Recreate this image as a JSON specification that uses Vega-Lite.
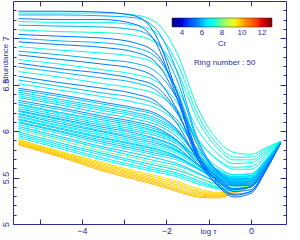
{
"$schema":"https://vega.github.io/schema/vega-lite/v6.json",
"width":273,"height":223,
"autosize":{"type":"none"},
"padding":{"left":13,"top":1,"right":14,"bottom":16},
"background":"white",
"config":{"view":{"stroke":null},"font":"Liberation Sans",
 "axis":{"domainColor":"#2b2b99","tickColor":"#2b2b99","labelColor":"#2b2b99","titleColor":"#2b2b99","grid":false,"labelFontSize":9,"titleFontSize":8,"titleFontWeight":"normal","labelFont":"Liberation Sans","titleFont":"Liberation Sans","domainWidth":1,"tickWidth":1}},
"datasets":{
"curves":[
{"r":"01","c":9.9,"x":-5.5,"y":5.85},{"r":"01","c":9.9,"x":-4.5,"y":5.72},{"r":"01","c":9.9,"x":-3.5,"y":5.57},{"r":"01","c":9.9,"x":-2.75,"y":5.48},{"r":"01","c":9.9,"x":-2.25,"y":5.42},{"r":"01","c":9.9,"x":-1.75,"y":5.35},{"r":"01","c":9.9,"x":-1.25,"y":5.29},{"r":"01","c":9.9,"x":-0.8,"y":5.28},{"r":"01","c":9.9,"x":-0.4,"y":5.33},{"r":"01","c":9.9,"x":0,"y":5.41},{"r":"01","c":9.9,"x":0.35,"y":5.61},{"r":"01","c":9.9,"x":0.7,"y":5.87},
{"r":"02","c":9.85,"x":-5.5,"y":5.86},{"r":"02","c":9.85,"x":-4.5,"y":5.73},{"r":"02","c":9.85,"x":-3.5,"y":5.585},{"r":"02","c":9.85,"x":-2.75,"y":5.495},{"r":"02","c":9.85,"x":-2.25,"y":5.435},{"r":"02","c":9.85,"x":-1.75,"y":5.365},{"r":"02","c":9.85,"x":-1.25,"y":5.30},{"r":"02","c":9.85,"x":-0.8,"y":5.29},{"r":"02","c":9.85,"x":-0.4,"y":5.34},{"r":"02","c":9.85,"x":0,"y":5.42},{"r":"02","c":9.85,"x":0.35,"y":5.61},{"r":"02","c":9.85,"x":0.7,"y":5.87},
{"r":"03","c":9.8,"x":-5.5,"y":5.87},{"r":"03","c":9.8,"x":-4.5,"y":5.74},{"r":"03","c":9.8,"x":-3.5,"y":5.60},{"r":"03","c":9.8,"x":-2.75,"y":5.51},{"r":"03","c":9.8,"x":-2.25,"y":5.45},{"r":"03","c":9.8,"x":-1.75,"y":5.38},{"r":"03","c":9.8,"x":-1.25,"y":5.315},{"r":"03","c":9.8,"x":-0.8,"y":5.30},{"r":"03","c":9.8,"x":-0.4,"y":5.35},{"r":"03","c":9.8,"x":0,"y":5.43},{"r":"03","c":9.8,"x":0.35,"y":5.62},{"r":"03","c":9.8,"x":0.7,"y":5.87},
{"r":"04","c":9.75,"x":-5.5,"y":5.88},{"r":"04","c":9.75,"x":-4.5,"y":5.75},{"r":"04","c":9.75,"x":-3.5,"y":5.615},{"r":"04","c":9.75,"x":-2.75,"y":5.525},{"r":"04","c":9.75,"x":-2.25,"y":5.465},{"r":"04","c":9.75,"x":-1.75,"y":5.40},{"r":"04","c":9.75,"x":-1.25,"y":5.33},{"r":"04","c":9.75,"x":-0.8,"y":5.31},{"r":"04","c":9.75,"x":-0.4,"y":5.36},{"r":"04","c":9.75,"x":0,"y":5.44},{"r":"04","c":9.75,"x":0.35,"y":5.62},{"r":"04","c":9.75,"x":0.7,"y":5.87},
{"r":"05","c":9.7,"x":-5.5,"y":5.89},{"r":"05","c":9.7,"x":-4.5,"y":5.76},{"r":"05","c":9.7,"x":-3.5,"y":5.63},{"r":"05","c":9.7,"x":-2.75,"y":5.54},{"r":"05","c":9.7,"x":-2.25,"y":5.48},{"r":"05","c":9.7,"x":-1.75,"y":5.42},{"r":"05","c":9.7,"x":-1.25,"y":5.345},{"r":"05","c":9.7,"x":-0.8,"y":5.32},{"r":"05","c":9.7,"x":-0.4,"y":5.37},{"r":"05","c":9.7,"x":0,"y":5.45},{"r":"05","c":9.7,"x":0.35,"y":5.63},{"r":"05","c":9.7,"x":0.7,"y":5.87},
{"r":"06","c":9.65,"x":-5.5,"y":5.90},{"r":"06","c":9.65,"x":-4.5,"y":5.77},{"r":"06","c":9.65,"x":-3.5,"y":5.645},{"r":"06","c":9.65,"x":-2.75,"y":5.555},{"r":"06","c":9.65,"x":-2.25,"y":5.50},{"r":"06","c":9.65,"x":-1.75,"y":5.44},{"r":"06","c":9.65,"x":-1.25,"y":5.36},{"r":"06","c":9.65,"x":-0.8,"y":5.33},{"r":"06","c":9.65,"x":-0.4,"y":5.38},{"r":"06","c":9.65,"x":0,"y":5.46},{"r":"06","c":9.65,"x":0.35,"y":5.63},{"r":"06","c":9.65,"x":0.7,"y":5.87},
{"r":"07","c":9.6,"x":-5.5,"y":5.91},{"r":"07","c":9.6,"x":-4.5,"y":5.78},{"r":"07","c":9.6,"x":-3.5,"y":5.66},{"r":"07","c":9.6,"x":-2.75,"y":5.57},{"r":"07","c":9.6,"x":-2.25,"y":5.52},{"r":"07","c":9.6,"x":-1.75,"y":5.46},{"r":"07","c":9.6,"x":-1.25,"y":5.38},{"r":"07","c":9.6,"x":-0.8,"y":5.34},{"r":"07","c":9.6,"x":-0.4,"y":5.39},{"r":"07","c":9.6,"x":0,"y":5.47},{"r":"07","c":9.6,"x":0.35,"y":5.64},{"r":"07","c":9.6,"x":0.7,"y":5.87},
{"r":"08","c":6.8,"x":-5.5,"y":5.93},{"r":"08","c":6.8,"x":-4.5,"y":5.81},{"r":"08","c":6.8,"x":-3.5,"y":5.69},{"r":"08","c":6.8,"x":-2.75,"y":5.61},{"r":"08","c":6.8,"x":-2.25,"y":5.56},{"r":"08","c":6.8,"x":-1.75,"y":5.51},{"r":"08","c":6.8,"x":-1.25,"y":5.43},{"r":"08","c":6.8,"x":-0.8,"y":5.38},{"r":"08","c":6.8,"x":-0.4,"y":5.36},{"r":"08","c":6.8,"x":0,"y":5.40},{"r":"08","c":6.8,"x":0.35,"y":5.61},{"r":"08","c":6.8,"x":0.7,"y":5.88},
{"r":"09","c":6.6,"x":-5.5,"y":5.95},{"r":"09","c":6.6,"x":-4.5,"y":5.83},{"r":"09","c":6.6,"x":-3.5,"y":5.71},{"r":"09","c":6.6,"x":-2.75,"y":5.63},{"r":"09","c":6.6,"x":-2.25,"y":5.58},{"r":"09","c":6.6,"x":-1.75,"y":5.53},{"r":"09","c":6.6,"x":-1.25,"y":5.45},{"r":"09","c":6.6,"x":-0.8,"y":5.39},{"r":"09","c":6.6,"x":-0.4,"y":5.37},{"r":"09","c":6.6,"x":0,"y":5.40},{"r":"09","c":6.6,"x":0.35,"y":5.61},{"r":"09","c":6.6,"x":0.7,"y":5.88},
{"r":"10","c":6.5,"x":-5.5,"y":5.97},{"r":"10","c":6.5,"x":-4.5,"y":5.85},{"r":"10","c":6.5,"x":-3.5,"y":5.74},{"r":"10","c":6.5,"x":-2.75,"y":5.66},{"r":"10","c":6.5,"x":-2.25,"y":5.60},{"r":"10","c":6.5,"x":-1.75,"y":5.55},{"r":"10","c":6.5,"x":-1.25,"y":5.47},{"r":"10","c":6.5,"x":-0.8,"y":5.40},{"r":"10","c":6.5,"x":-0.4,"y":5.38},{"r":"10","c":6.5,"x":0,"y":5.41},{"r":"10","c":6.5,"x":0.35,"y":5.62},{"r":"10","c":6.5,"x":0.7,"y":5.88},
{"r":"11","c":6.3,"x":-5.5,"y":5.99},{"r":"11","c":6.3,"x":-4.5,"y":5.87},{"r":"11","c":6.3,"x":-3.5,"y":5.76},{"r":"11","c":6.3,"x":-2.75,"y":5.68},{"r":"11","c":6.3,"x":-2.25,"y":5.63},{"r":"11","c":6.3,"x":-1.75,"y":5.58},{"r":"11","c":6.3,"x":-1.25,"y":5.50},{"r":"11","c":6.3,"x":-0.8,"y":5.43},{"r":"11","c":6.3,"x":-0.4,"y":5.41},{"r":"11","c":6.3,"x":0,"y":5.44},{"r":"11","c":6.3,"x":0.35,"y":5.63},{"r":"11","c":6.3,"x":0.7,"y":5.88},
{"r":"12","c":7.8,"x":-5.5,"y":6.01},{"r":"12","c":7.8,"x":-4.5,"y":5.90},{"r":"12","c":7.8,"x":-3.5,"y":5.78},{"r":"12","c":7.8,"x":-2.75,"y":5.71},{"r":"12","c":7.8,"x":-2.25,"y":5.65},{"r":"12","c":7.8,"x":-1.75,"y":5.60},{"r":"12","c":7.8,"x":-1.25,"y":5.50},{"r":"12","c":7.8,"x":-0.8,"y":5.42},{"r":"12","c":7.8,"x":-0.4,"y":5.40},{"r":"12","c":7.8,"x":0,"y":5.42},{"r":"12","c":7.8,"x":0.35,"y":5.62},{"r":"12","c":7.8,"x":0.7,"y":5.88},
{"r":"13","c":6.4,"x":-5.5,"y":6.03},{"r":"13","c":6.4,"x":-4.5,"y":5.92},{"r":"13","c":6.4,"x":-3.5,"y":5.81},{"r":"13","c":6.4,"x":-2.75,"y":5.73},{"r":"13","c":6.4,"x":-2.25,"y":5.68},{"r":"13","c":6.4,"x":-1.75,"y":5.63},{"r":"13","c":6.4,"x":-1.25,"y":5.54},{"r":"13","c":6.4,"x":-0.8,"y":5.46},{"r":"13","c":6.4,"x":-0.4,"y":5.44},{"r":"13","c":6.4,"x":0,"y":5.46},{"r":"13","c":6.4,"x":0.35,"y":5.65},{"r":"13","c":6.4,"x":0.7,"y":5.88},
{"r":"14","c":6.2,"x":-5.5,"y":6.05},{"r":"14","c":6.2,"x":-4.5,"y":5.94},{"r":"14","c":6.2,"x":-3.5,"y":5.83},{"r":"14","c":6.2,"x":-2.75,"y":5.76},{"r":"14","c":6.2,"x":-2.25,"y":5.71},{"r":"14","c":6.2,"x":-1.75,"y":5.65},{"r":"14","c":6.2,"x":-1.25,"y":5.55},{"r":"14","c":6.2,"x":-0.8,"y":5.45},{"r":"14","c":6.2,"x":-0.4,"y":5.42},{"r":"14","c":6.2,"x":0,"y":5.44},{"r":"14","c":6.2,"x":0.35,"y":5.63},{"r":"14","c":6.2,"x":0.7,"y":5.88},
{"r":"15","c":6.6,"x":-5.5,"y":6.07},{"r":"15","c":6.6,"x":-4.5,"y":5.97},{"r":"15","c":6.6,"x":-3.5,"y":5.86},{"r":"15","c":6.6,"x":-2.75,"y":5.79},{"r":"15","c":6.6,"x":-2.25,"y":5.74},{"r":"15","c":6.6,"x":-1.75,"y":5.69},{"r":"15","c":6.6,"x":-1.25,"y":5.59},{"r":"15","c":6.6,"x":-0.8,"y":5.50},{"r":"15","c":6.6,"x":-0.4,"y":5.47},{"r":"15","c":6.6,"x":0,"y":5.49},{"r":"15","c":6.6,"x":0.35,"y":5.66},{"r":"15","c":6.6,"x":0.7,"y":5.89},
{"r":"16","c":6.1,"x":-5.5,"y":6.09},{"r":"16","c":6.1,"x":-4.5,"y":5.99},{"r":"16","c":6.1,"x":-3.5,"y":5.88},{"r":"16","c":6.1,"x":-2.75,"y":5.81},{"r":"16","c":6.1,"x":-2.25,"y":5.76},{"r":"16","c":6.1,"x":-1.75,"y":5.71},{"r":"16","c":6.1,"x":-1.25,"y":5.60},{"r":"16","c":6.1,"x":-0.8,"y":5.50},{"r":"16","c":6.1,"x":-0.4,"y":5.47},{"r":"16","c":6.1,"x":0,"y":5.49},{"r":"16","c":6.1,"x":0.35,"y":5.66},{"r":"16","c":6.1,"x":0.7,"y":5.88},
{"r":"17","c":6.3,"x":-5.5,"y":6.10},{"r":"17","c":6.3,"x":-4.5,"y":6.00},{"r":"17","c":6.3,"x":-3.5,"y":5.90},{"r":"17","c":6.3,"x":-2.75,"y":5.83},{"r":"17","c":6.3,"x":-2.25,"y":5.78},{"r":"17","c":6.3,"x":-1.75,"y":5.72},{"r":"17","c":6.3,"x":-1.25,"y":5.60},{"r":"17","c":6.3,"x":-0.8,"y":5.50},{"r":"17","c":6.3,"x":-0.4,"y":5.46},{"r":"17","c":6.3,"x":0,"y":5.48},{"r":"17","c":6.3,"x":0.35,"y":5.65},{"r":"17","c":6.3,"x":0.7,"y":5.88},
{"r":"18","c":6.4,"x":-5.5,"y":6.12},{"r":"18","c":6.4,"x":-4.5,"y":6.02},{"r":"18","c":6.4,"x":-3.5,"y":5.92},{"r":"18","c":6.4,"x":-2.75,"y":5.85},{"r":"18","c":6.4,"x":-2.25,"y":5.80},{"r":"18","c":6.4,"x":-1.75,"y":5.73},{"r":"18","c":6.4,"x":-1.25,"y":5.60},{"r":"18","c":6.4,"x":-0.8,"y":5.49},{"r":"18","c":6.4,"x":-0.4,"y":5.45},{"r":"18","c":6.4,"x":0,"y":5.47},{"r":"18","c":6.4,"x":0.35,"y":5.65},{"r":"18","c":6.4,"x":0.7,"y":5.88},
{"r":"19","c":6.2,"x":-5.5,"y":6.13},{"r":"19","c":6.2,"x":-4.5,"y":6.03},{"r":"19","c":6.2,"x":-3.5,"y":5.93},{"r":"19","c":6.2,"x":-2.75,"y":5.86},{"r":"19","c":6.2,"x":-2.25,"y":5.81},{"r":"19","c":6.2,"x":-1.75,"y":5.73},{"r":"19","c":6.2,"x":-1.25,"y":5.59},{"r":"19","c":6.2,"x":-0.8,"y":5.48},{"r":"19","c":6.2,"x":-0.4,"y":5.44},{"r":"19","c":6.2,"x":0,"y":5.46},{"r":"19","c":6.2,"x":0.35,"y":5.65},{"r":"19","c":6.2,"x":0.7,"y":5.88},
{"r":"20","c":6.7,"x":-5.5,"y":6.15},{"r":"20","c":6.7,"x":-4.5,"y":6.05},{"r":"20","c":6.7,"x":-3.5,"y":5.95},{"r":"20","c":6.7,"x":-2.75,"y":5.88},{"r":"20","c":6.7,"x":-2.25,"y":5.83},{"r":"20","c":6.7,"x":-1.75,"y":5.76},{"r":"20","c":6.7,"x":-1.25,"y":5.62},{"r":"20","c":6.7,"x":-0.8,"y":5.51},{"r":"20","c":6.7,"x":-0.4,"y":5.47},{"r":"20","c":6.7,"x":0,"y":5.49},{"r":"20","c":6.7,"x":0.35,"y":5.67},{"r":"20","c":6.7,"x":0.7,"y":5.89},
{"r":"21","c":6.5,"x":-5.5,"y":6.16},{"r":"21","c":6.5,"x":-4.5,"y":6.06},{"r":"21","c":6.5,"x":-3.5,"y":5.97},{"r":"21","c":6.5,"x":-2.75,"y":5.90},{"r":"21","c":6.5,"x":-2.25,"y":5.85},{"r":"21","c":6.5,"x":-1.75,"y":5.78},{"r":"21","c":6.5,"x":-1.25,"y":5.64},{"r":"21","c":6.5,"x":-0.8,"y":5.54},{"r":"21","c":6.5,"x":-0.4,"y":5.50},{"r":"21","c":6.5,"x":0,"y":5.52},{"r":"21","c":6.5,"x":0.35,"y":5.68},{"r":"21","c":6.5,"x":0.7,"y":5.89},
{"r":"22","c":6.0,"x":-5.5,"y":6.18},{"r":"22","c":6.0,"x":-4.5,"y":6.08},{"r":"22","c":6.0,"x":-3.5,"y":5.99},{"r":"22","c":6.0,"x":-2.75,"y":5.92},{"r":"22","c":6.0,"x":-2.25,"y":5.87},{"r":"22","c":6.0,"x":-1.75,"y":5.79},{"r":"22","c":6.0,"x":-1.25,"y":5.64},{"r":"22","c":6.0,"x":-0.8,"y":5.53},{"r":"22","c":6.0,"x":-0.4,"y":5.49},{"r":"22","c":6.0,"x":0,"y":5.51},{"r":"22","c":6.0,"x":0.35,"y":5.67},{"r":"22","c":6.0,"x":0.7,"y":5.89},
{"r":"23","c":6.3,"x":-5.5,"y":6.19},{"r":"23","c":6.3,"x":-4.5,"y":6.10},{"r":"23","c":6.3,"x":-3.5,"y":6.00},{"r":"23","c":6.3,"x":-2.75,"y":5.94},{"r":"23","c":6.3,"x":-2.25,"y":5.89},{"r":"23","c":6.3,"x":-1.75,"y":5.80},{"r":"23","c":6.3,"x":-1.25,"y":5.64},{"r":"23","c":6.3,"x":-0.8,"y":5.52},{"r":"23","c":6.3,"x":-0.4,"y":5.48},{"r":"23","c":6.3,"x":0,"y":5.49},{"r":"23","c":6.3,"x":0.35,"y":5.66},{"r":"23","c":6.3,"x":0.7,"y":5.88},
{"r":"24","c":6.5,"x":-5.5,"y":6.21},{"r":"24","c":6.5,"x":-4.5,"y":6.12},{"r":"24","c":6.5,"x":-3.5,"y":6.02},{"r":"24","c":6.5,"x":-2.75,"y":5.96},{"r":"24","c":6.5,"x":-2.25,"y":5.91},{"r":"24","c":6.5,"x":-1.75,"y":5.82},{"r":"24","c":6.5,"x":-1.25,"y":5.64},{"r":"24","c":6.5,"x":-0.8,"y":5.51},{"r":"24","c":6.5,"x":-0.4,"y":5.46},{"r":"24","c":6.5,"x":0,"y":5.47},{"r":"24","c":6.5,"x":0.35,"y":5.65},{"r":"24","c":6.5,"x":0.7,"y":5.88},
{"r":"25","c":5.9,"x":-5.5,"y":6.22},{"r":"25","c":5.9,"x":-4.5,"y":6.13},{"r":"25","c":5.9,"x":-3.5,"y":6.04},{"r":"25","c":5.9,"x":-2.75,"y":5.98},{"r":"25","c":5.9,"x":-2.25,"y":5.92},{"r":"25","c":5.9,"x":-1.75,"y":5.83},{"r":"25","c":5.9,"x":-1.25,"y":5.63},{"r":"25","c":5.9,"x":-0.8,"y":5.49},{"r":"25","c":5.9,"x":-0.4,"y":5.43},{"r":"25","c":5.9,"x":0,"y":5.44},{"r":"25","c":5.9,"x":0.35,"y":5.63},{"r":"25","c":5.9,"x":0.7,"y":5.88},
{"r":"26","c":6.2,"x":-5.5,"y":6.24},{"r":"26","c":6.2,"x":-4.5,"y":6.15},{"r":"26","c":6.2,"x":-3.5,"y":6.06},{"r":"26","c":6.2,"x":-2.75,"y":6.00},{"r":"26","c":6.2,"x":-2.25,"y":5.95},{"r":"26","c":6.2,"x":-1.75,"y":5.86},{"r":"26","c":6.2,"x":-1.25,"y":5.67},{"r":"26","c":6.2,"x":-0.8,"y":5.53},{"r":"26","c":6.2,"x":-0.4,"y":5.47},{"r":"26","c":6.2,"x":0,"y":5.48},{"r":"26","c":6.2,"x":0.35,"y":5.66},{"r":"26","c":6.2,"x":0.7,"y":5.88},
{"r":"27","c":6.4,"x":-5.5,"y":6.26},{"r":"27","c":6.4,"x":-4.5,"y":6.17},{"r":"27","c":6.4,"x":-3.5,"y":6.08},{"r":"27","c":6.4,"x":-2.75,"y":6.02},{"r":"27","c":6.4,"x":-2.25,"y":5.97},{"r":"27","c":6.4,"x":-1.75,"y":5.88},{"r":"27","c":6.4,"x":-1.25,"y":5.70},{"r":"27","c":6.4,"x":-0.8,"y":5.56},{"r":"27","c":6.4,"x":-0.4,"y":5.51},{"r":"27","c":6.4,"x":0,"y":5.52},{"r":"27","c":6.4,"x":0.35,"y":5.68},{"r":"27","c":6.4,"x":0.7,"y":5.89},
{"r":"28","c":6.6,"x":-5.5,"y":6.28},{"r":"28","c":6.6,"x":-4.5,"y":6.19},{"r":"28","c":6.6,"x":-3.5,"y":6.10},{"r":"28","c":6.6,"x":-2.75,"y":6.04},{"r":"28","c":6.6,"x":-2.25,"y":5.99},{"r":"28","c":6.6,"x":-1.75,"y":5.89},{"r":"28","c":6.6,"x":-1.25,"y":5.70},{"r":"28","c":6.6,"x":-0.8,"y":5.56},{"r":"28","c":6.6,"x":-0.4,"y":5.50},{"r":"28","c":6.6,"x":0,"y":5.51},{"r":"28","c":6.6,"x":0.35,"y":5.67},{"r":"28","c":6.6,"x":0.7,"y":5.89},
{"r":"29","c":6.2,"x":-5.5,"y":6.29},{"r":"29","c":6.2,"x":-4.5,"y":6.20},{"r":"29","c":6.2,"x":-3.5,"y":6.12},{"r":"29","c":6.2,"x":-2.75,"y":6.06},{"r":"29","c":6.2,"x":-2.25,"y":6.00},{"r":"29","c":6.2,"x":-1.75,"y":5.90},{"r":"29","c":6.2,"x":-1.25,"y":5.70},{"r":"29","c":6.2,"x":-0.8,"y":5.55},{"r":"29","c":6.2,"x":-0.4,"y":5.48},{"r":"29","c":6.2,"x":0,"y":5.49},{"r":"29","c":6.2,"x":0.35,"y":5.66},{"r":"29","c":6.2,"x":0.7,"y":5.88},
{"r":"30","c":6.1,"x":-5.5,"y":6.31},{"r":"30","c":6.1,"x":-4.5,"y":6.23},{"r":"30","c":6.1,"x":-3.5,"y":6.14},{"r":"30","c":6.1,"x":-2.75,"y":6.08},{"r":"30","c":6.1,"x":-2.25,"y":6.02},{"r":"30","c":6.1,"x":-1.75,"y":5.90},{"r":"30","c":6.1,"x":-1.25,"y":5.67},{"r":"30","c":6.1,"x":-0.8,"y":5.52},{"r":"30","c":6.1,"x":-0.4,"y":5.45},{"r":"30","c":6.1,"x":0,"y":5.46},{"r":"30","c":6.1,"x":0.35,"y":5.64},{"r":"30","c":6.1,"x":0.7,"y":5.88},
{"r":"31","c":5.7,"x":-5.5,"y":6.33},{"r":"31","c":5.7,"x":-4.5,"y":6.25},{"r":"31","c":5.7,"x":-3.5,"y":6.16},{"r":"31","c":5.7,"x":-2.75,"y":6.10},{"r":"31","c":5.7,"x":-2.25,"y":6.04},{"r":"31","c":5.7,"x":-1.75,"y":5.90},{"r":"31","c":5.7,"x":-1.25,"y":5.64},{"r":"31","c":5.7,"x":-0.8,"y":5.48},{"r":"31","c":5.7,"x":-0.4,"y":5.41},{"r":"31","c":5.7,"x":0,"y":5.42},{"r":"31","c":5.7,"x":0.35,"y":5.62},{"r":"31","c":5.7,"x":0.7,"y":5.87},
{"r":"32","c":6.3,"x":-5.5,"y":6.36},{"r":"32","c":6.3,"x":-4.5,"y":6.28},{"r":"32","c":6.3,"x":-3.5,"y":6.19},{"r":"32","c":6.3,"x":-2.75,"y":6.13},{"r":"32","c":6.3,"x":-2.25,"y":6.07},{"r":"32","c":6.3,"x":-1.75,"y":5.94},{"r":"32","c":6.3,"x":-1.25,"y":5.69},{"r":"32","c":6.3,"x":-0.8,"y":5.54},{"r":"32","c":6.3,"x":-0.4,"y":5.47},{"r":"32","c":6.3,"x":0,"y":5.48},{"r":"32","c":6.3,"x":0.35,"y":5.66},{"r":"32","c":6.3,"x":0.7,"y":5.88},
{"r":"33","c":6.5,"x":-5.5,"y":6.38},{"r":"33","c":6.5,"x":-4.5,"y":6.30},{"r":"33","c":6.5,"x":-3.5,"y":6.22},{"r":"33","c":6.5,"x":-2.75,"y":6.16},{"r":"33","c":6.5,"x":-2.25,"y":6.10},{"r":"33","c":6.5,"x":-1.75,"y":5.97},{"r":"33","c":6.5,"x":-1.25,"y":5.74},{"r":"33","c":6.5,"x":-0.8,"y":5.59},{"r":"33","c":6.5,"x":-0.4,"y":5.53},{"r":"33","c":6.5,"x":0,"y":5.54},{"r":"33","c":6.5,"x":0.35,"y":5.69},{"r":"33","c":6.5,"x":0.7,"y":5.89},
{"r":"34","c":6.4,"x":-5.5,"y":6.40},{"r":"34","c":6.4,"x":-4.5,"y":6.32},{"r":"34","c":6.4,"x":-3.5,"y":6.24},{"r":"34","c":6.4,"x":-2.75,"y":6.18},{"r":"34","c":6.4,"x":-2.25,"y":6.12},{"r":"34","c":6.4,"x":-1.75,"y":5.99},{"r":"34","c":6.4,"x":-1.25,"y":5.74},{"r":"34","c":6.4,"x":-0.8,"y":5.58},{"r":"34","c":6.4,"x":-0.4,"y":5.51},{"r":"34","c":6.4,"x":0,"y":5.52},{"r":"34","c":6.4,"x":0.35,"y":5.68},{"r":"34","c":6.4,"x":0.7,"y":5.89},
{"r":"35","c":6.2,"x":-5.5,"y":6.42},{"r":"35","c":6.2,"x":-4.5,"y":6.34},{"r":"35","c":6.2,"x":-3.5,"y":6.26},{"r":"35","c":6.2,"x":-2.75,"y":6.20},{"r":"35","c":6.2,"x":-2.25,"y":6.14},{"r":"35","c":6.2,"x":-1.75,"y":6.00},{"r":"35","c":6.2,"x":-1.25,"y":5.73},{"r":"35","c":6.2,"x":-0.8,"y":5.56},{"r":"35","c":6.2,"x":-0.4,"y":5.48},{"r":"35","c":6.2,"x":0,"y":5.49},{"r":"35","c":6.2,"x":0.35,"y":5.66},{"r":"35","c":6.2,"x":0.7,"y":5.88},
{"r":"36","c":6.1,"x":-5.5,"y":6.44},{"r":"36","c":6.1,"x":-4.5,"y":6.37},{"r":"36","c":6.1,"x":-3.5,"y":6.29},{"r":"36","c":6.1,"x":-2.75,"y":6.23},{"r":"36","c":6.1,"x":-2.25,"y":6.17},{"r":"36","c":6.1,"x":-1.75,"y":6.01},{"r":"36","c":6.1,"x":-1.25,"y":5.72},{"r":"36","c":6.1,"x":-0.8,"y":5.54},{"r":"36","c":6.1,"x":-0.4,"y":5.45},{"r":"36","c":6.1,"x":0,"y":5.46},{"r":"36","c":6.1,"x":0.35,"y":5.64},{"r":"36","c":6.1,"x":0.7,"y":5.88},
{"r":"37","c":5.6,"x":-5.5,"y":6.46},{"r":"37","c":5.6,"x":-4.5,"y":6.39},{"r":"37","c":5.6,"x":-3.5,"y":6.31},{"r":"37","c":5.6,"x":-2.75,"y":6.25},{"r":"37","c":5.6,"x":-2.25,"y":6.19},{"r":"37","c":5.6,"x":-1.75,"y":6.02},{"r":"37","c":5.6,"x":-1.25,"y":5.70},{"r":"37","c":5.6,"x":-0.8,"y":5.51},{"r":"37","c":5.6,"x":-0.4,"y":5.42},{"r":"37","c":5.6,"x":0,"y":5.42},{"r":"37","c":5.6,"x":0.35,"y":5.62},{"r":"37","c":5.6,"x":0.7,"y":5.87},
{"r":"38","c":6.6,"x":-5.5,"y":6.51},{"r":"38","c":6.6,"x":-4.5,"y":6.44},{"r":"38","c":6.6,"x":-3.5,"y":6.37},{"r":"38","c":6.6,"x":-2.75,"y":6.31},{"r":"38","c":6.6,"x":-2.25,"y":6.25},{"r":"38","c":6.6,"x":-1.75,"y":6.09},{"r":"38","c":6.6,"x":-1.25,"y":5.80},{"r":"38","c":6.6,"x":-0.8,"y":5.62},{"r":"38","c":6.6,"x":-0.4,"y":5.53},{"r":"38","c":6.6,"x":0,"y":5.54},{"r":"38","c":6.6,"x":0.35,"y":5.69},{"r":"38","c":6.6,"x":0.7,"y":5.89},
{"r":"39","c":6.1,"x":-5.5,"y":6.55},{"r":"39","c":6.1,"x":-4.5,"y":6.48},{"r":"39","c":6.1,"x":-3.5,"y":6.41},{"r":"39","c":6.1,"x":-2.75,"y":6.36},{"r":"39","c":6.1,"x":-2.25,"y":6.29},{"r":"39","c":6.1,"x":-1.75,"y":6.12},{"r":"39","c":6.1,"x":-1.25,"y":5.79},{"r":"39","c":6.1,"x":-0.8,"y":5.58},{"r":"39","c":6.1,"x":-0.4,"y":5.49},{"r":"39","c":6.1,"x":0,"y":5.49},{"r":"39","c":6.1,"x":0.35,"y":5.66},{"r":"39","c":6.1,"x":0.7,"y":5.88},
{"r":"40","c":5.5,"x":-5.5,"y":6.59},{"r":"40","c":5.5,"x":-4.5,"y":6.52},{"r":"40","c":5.5,"x":-3.5,"y":6.46},{"r":"40","c":5.5,"x":-2.75,"y":6.40},{"r":"40","c":5.5,"x":-2.25,"y":6.32},{"r":"40","c":5.5,"x":-1.75,"y":6.08},{"r":"40","c":5.5,"x":-1.25,"y":5.69},{"r":"40","c":5.5,"x":-0.8,"y":5.47},{"r":"40","c":5.5,"x":-0.4,"y":5.38},{"r":"40","c":5.5,"x":0,"y":5.40},{"r":"40","c":5.5,"x":0.35,"y":5.61},{"r":"40","c":5.5,"x":0.7,"y":5.87},
{"r":"41","c":6.9,"x":-5.5,"y":6.64},{"r":"41","c":6.9,"x":-4.5,"y":6.58},{"r":"41","c":6.9,"x":-3.5,"y":6.51},{"r":"41","c":6.9,"x":-2.75,"y":6.46},{"r":"41","c":6.9,"x":-2.25,"y":6.40},{"r":"41","c":6.9,"x":-1.75,"y":6.23},{"r":"41","c":6.9,"x":-1.25,"y":5.90},{"r":"41","c":6.9,"x":-0.8,"y":5.69},{"r":"41","c":6.9,"x":-0.4,"y":5.59},{"r":"41","c":6.9,"x":0,"y":5.59},{"r":"41","c":6.9,"x":0.35,"y":5.72},{"r":"41","c":6.9,"x":0.7,"y":5.89},
{"r":"42","c":6.0,"x":-5.5,"y":6.69},{"r":"42","c":6.0,"x":-4.5,"y":6.63},{"r":"42","c":6.0,"x":-3.5,"y":6.57},{"r":"42","c":6.0,"x":-2.75,"y":6.52},{"r":"42","c":6.0,"x":-2.25,"y":6.44},{"r":"42","c":6.0,"x":-1.75,"y":6.19},{"r":"42","c":6.0,"x":-1.25,"y":5.77},{"r":"42","c":6.0,"x":-0.8,"y":5.55},{"r":"42","c":6.0,"x":-0.4,"y":5.45},{"r":"42","c":6.0,"x":0,"y":5.46},{"r":"42","c":6.0,"x":0.35,"y":5.65},{"r":"42","c":6.0,"x":0.7,"y":5.88},
{"r":"43","c":5.5,"x":-5.5,"y":6.73},{"r":"43","c":5.5,"x":-4.5,"y":6.67},{"r":"43","c":5.5,"x":-3.5,"y":6.62},{"r":"43","c":5.5,"x":-2.75,"y":6.56},{"r":"43","c":5.5,"x":-2.25,"y":6.48},{"r":"43","c":5.5,"x":-1.75,"y":6.21},{"r":"43","c":5.5,"x":-1.25,"y":5.74},{"r":"43","c":5.5,"x":-0.8,"y":5.50},{"r":"43","c":5.5,"x":-0.4,"y":5.38},{"r":"43","c":5.5,"x":0,"y":5.40},{"r":"43","c":5.5,"x":0.35,"y":5.61},{"r":"43","c":5.5,"x":0.7,"y":5.87},
{"r":"44","c":6.8,"x":-5.5,"y":6.77},{"r":"44","c":6.8,"x":-4.5,"y":6.72},{"r":"44","c":6.8,"x":-3.5,"y":6.66},{"r":"44","c":6.8,"x":-2.75,"y":6.61},{"r":"44","c":6.8,"x":-2.25,"y":6.54},{"r":"44","c":6.8,"x":-1.75,"y":6.31},{"r":"44","c":6.8,"x":-1.25,"y":5.91},{"r":"44","c":6.8,"x":-0.8,"y":5.70},{"r":"44","c":6.8,"x":-0.4,"y":5.61},{"r":"44","c":6.8,"x":0,"y":5.62},{"r":"44","c":6.8,"x":0.35,"y":5.74},{"r":"44","c":6.8,"x":0.7,"y":5.89},
{"r":"45","c":5.4,"x":-5.5,"y":6.82},{"r":"45","c":5.4,"x":-4.5,"y":6.77},{"r":"45","c":5.4,"x":-3.5,"y":6.72},{"r":"45","c":5.4,"x":-2.75,"y":6.67},{"r":"45","c":5.4,"x":-2.25,"y":6.57},{"r":"45","c":5.4,"x":-1.75,"y":6.23},{"r":"45","c":5.4,"x":-1.25,"y":5.70},{"r":"45","c":5.4,"x":-0.8,"y":5.47},{"r":"45","c":5.4,"x":-0.4,"y":5.37},{"r":"45","c":5.4,"x":0,"y":5.40},{"r":"45","c":5.4,"x":0.35,"y":5.61},{"r":"45","c":5.4,"x":0.7,"y":5.87},
{"r":"46","c":5.9,"x":-5.5,"y":6.86},{"r":"46","c":5.9,"x":-4.5,"y":6.82},{"r":"46","c":5.9,"x":-3.5,"y":6.77},{"r":"46","c":5.9,"x":-2.75,"y":6.73},{"r":"46","c":5.9,"x":-2.25,"y":6.64},{"r":"46","c":5.9,"x":-1.75,"y":6.35},{"r":"46","c":5.9,"x":-1.25,"y":5.84},{"r":"46","c":5.9,"x":-0.8,"y":5.56},{"r":"46","c":5.9,"x":-0.4,"y":5.44},{"r":"46","c":5.9,"x":0,"y":5.44},{"r":"46","c":5.9,"x":0.35,"y":5.63},{"r":"46","c":5.9,"x":0.7,"y":5.88},
{"r":"47","c":7.0,"x":-5.5,"y":6.91},{"r":"47","c":7.0,"x":-4.5,"y":6.87},{"r":"47","c":7.0,"x":-3.5,"y":6.84},{"r":"47","c":7.0,"x":-2.75,"y":6.80},{"r":"47","c":7.0,"x":-2.25,"y":6.72},{"r":"47","c":7.0,"x":-1.75,"y":6.46},{"r":"47","c":7.0,"x":-1.25,"y":6.01},{"r":"47","c":7.0,"x":-0.8,"y":5.76},{"r":"47","c":7.0,"x":-0.4,"y":5.65},{"r":"47","c":7.0,"x":0,"y":5.66},{"r":"47","c":7.0,"x":0.35,"y":5.76},{"r":"47","c":7.0,"x":0.7,"y":5.89},
{"r":"48","c":5.4,"x":-5.5,"y":6.96},{"r":"48","c":5.4,"x":-4.5,"y":6.93},{"r":"48","c":5.4,"x":-3.5,"y":6.90},{"r":"48","c":5.4,"x":-2.75,"y":6.85},{"r":"48","c":5.4,"x":-2.25,"y":6.74},{"r":"48","c":5.4,"x":-1.75,"y":6.35},{"r":"48","c":5.4,"x":-1.25,"y":5.74},{"r":"48","c":5.4,"x":-0.8,"y":5.47},{"r":"48","c":5.4,"x":-0.4,"y":5.35},{"r":"48","c":5.4,"x":0,"y":5.37},{"r":"48","c":5.4,"x":0.35,"y":5.59},{"r":"48","c":5.4,"x":0.7,"y":5.87},
{"r":"49","c":6.0,"x":-5.5,"y":7.00},{"r":"49","c":6.0,"x":-4.5,"y":6.97},{"r":"49","c":6.0,"x":-3.5,"y":6.95},{"r":"49","c":6.0,"x":-2.75,"y":6.90},{"r":"49","c":6.0,"x":-2.25,"y":6.80},{"r":"49","c":6.0,"x":-1.75,"y":6.43},{"r":"49","c":6.0,"x":-1.25,"y":5.84},{"r":"49","c":6.0,"x":-0.8,"y":5.58},{"r":"49","c":6.0,"x":-0.4,"y":5.47},{"r":"49","c":6.0,"x":0,"y":5.49},{"r":"49","c":6.0,"x":0.35,"y":5.66},{"r":"49","c":6.0,"x":0.7,"y":5.88},
{"r":"50","c":5.3,"x":-5.5,"y":7.04},{"r":"50","c":5.3,"x":-4.5,"y":7.02},{"r":"50","c":5.3,"x":-3.5,"y":7.00},{"r":"50","c":5.3,"x":-2.75,"y":6.95},{"r":"50","c":5.3,"x":-2.25,"y":6.84},{"r":"50","c":5.3,"x":-1.75,"y":6.42},{"r":"50","c":5.3,"x":-1.25,"y":5.75},{"r":"50","c":5.3,"x":-0.8,"y":5.45},{"r":"50","c":5.3,"x":-0.4,"y":5.32},{"r":"50","c":5.3,"x":0,"y":5.35},{"r":"50","c":5.3,"x":0.35,"y":5.58},{"r":"50","c":5.3,"x":0.7,"y":5.87},
{"r":"51","c":7.2,"x":-5.5,"y":7.09},{"r":"51","c":7.2,"x":-4.5,"y":7.07},{"r":"51","c":7.2,"x":-3.5,"y":7.06},{"r":"51","c":7.2,"x":-2.75,"y":7.03},{"r":"51","c":7.2,"x":-2.25,"y":6.95},{"r":"51","c":7.2,"x":-1.75,"y":6.65},{"r":"51","c":7.2,"x":-1.25,"y":6.11},{"r":"51","c":7.2,"x":-0.8,"y":5.82},{"r":"51","c":7.2,"x":-0.4,"y":5.69},{"r":"51","c":7.2,"x":0,"y":5.69},{"r":"51","c":7.2,"x":0.35,"y":5.78},{"r":"51","c":7.2,"x":0.7,"y":5.89},
{"r":"52","c":5.9,"x":-5.5,"y":7.14},{"r":"52","c":5.9,"x":-4.5,"y":7.13},{"r":"52","c":5.9,"x":-3.5,"y":7.12},{"r":"52","c":5.9,"x":-2.75,"y":7.09},{"r":"52","c":5.9,"x":-2.25,"y":6.97},{"r":"52","c":5.9,"x":-1.75,"y":6.55},{"r":"52","c":5.9,"x":-1.25,"y":5.88},{"r":"52","c":5.9,"x":-0.8,"y":5.57},{"r":"52","c":5.9,"x":-0.4,"y":5.45},{"r":"52","c":5.9,"x":0,"y":5.46},{"r":"52","c":5.9,"x":0.35,"y":5.65},{"r":"52","c":5.9,"x":0.7,"y":5.88},
{"r":"53","c":7.0,"x":-5.5,"y":7.18},{"r":"53","c":7.0,"x":-4.5,"y":7.17},{"r":"53","c":7.0,"x":-3.5,"y":7.17},{"r":"53","c":7.0,"x":-2.75,"y":7.14},{"r":"53","c":7.0,"x":-2.25,"y":7.06},{"r":"53","c":7.0,"x":-1.75,"y":6.74},{"r":"53","c":7.0,"x":-1.25,"y":6.17},{"r":"53","c":7.0,"x":-0.8,"y":5.86},{"r":"53","c":7.0,"x":-0.4,"y":5.72},{"r":"53","c":7.0,"x":0,"y":5.72},{"r":"53","c":7.0,"x":0.35,"y":5.80},{"r":"53","c":7.0,"x":0.7,"y":5.89},
{"r":"54","c":5.3,"x":-5.5,"y":7.21},{"r":"54","c":5.3,"x":-4.5,"y":7.20},{"r":"54","c":5.3,"x":-3.5,"y":7.20},{"r":"54","c":5.3,"x":-2.75,"y":7.15},{"r":"54","c":5.3,"x":-2.25,"y":6.95},{"r":"54","c":5.3,"x":-1.75,"y":6.36},{"r":"54","c":5.3,"x":-1.25,"y":5.70},{"r":"54","c":5.3,"x":-0.8,"y":5.43},{"r":"54","c":5.3,"x":-0.4,"y":5.31},{"r":"54","c":5.3,"x":0,"y":5.35},{"r":"54","c":5.3,"x":0.35,"y":5.58},{"r":"54","c":5.3,"x":0.7,"y":5.87},
{"r":"55","c":5.9,"x":-5.5,"y":7.25},{"r":"55","c":5.9,"x":-4.5,"y":7.25},{"r":"55","c":5.9,"x":-3.5,"y":7.24},{"r":"55","c":5.9,"x":-2.75,"y":7.22},{"r":"55","c":5.9,"x":-2.25,"y":7.10},{"r":"55","c":5.9,"x":-1.75,"y":6.64},{"r":"55","c":5.9,"x":-1.25,"y":5.90},{"r":"55","c":5.9,"x":-0.8,"y":5.57},{"r":"55","c":5.9,"x":-0.4,"y":5.43},{"r":"55","c":5.9,"x":0,"y":5.44},{"r":"55","c":5.9,"x":0.35,"y":5.63},{"r":"55","c":5.9,"x":0.7,"y":5.88},
{"r":"56","c":7.3,"x":-5.5,"y":7.27},{"r":"56","c":7.3,"x":-4.5,"y":7.27},{"r":"56","c":7.3,"x":-3.5,"y":7.27},{"r":"56","c":7.3,"x":-2.75,"y":7.25},{"r":"56","c":7.3,"x":-2.25,"y":7.17},{"r":"56","c":7.3,"x":-1.75,"y":6.84},{"r":"56","c":7.3,"x":-1.25,"y":6.24},{"r":"56","c":7.3,"x":-0.8,"y":5.91},{"r":"56","c":7.3,"x":-0.4,"y":5.77},{"r":"56","c":7.3,"x":0,"y":5.75},{"r":"56","c":7.3,"x":0.35,"y":5.82},{"r":"56","c":7.3,"x":0.7,"y":5.89},
{"r":"57","c":5.2,"x":-5.5,"y":7.29},{"r":"57","c":5.2,"x":-4.5,"y":7.29},{"r":"57","c":5.2,"x":-3.5,"y":7.28},{"r":"57","c":5.2,"x":-2.75,"y":7.24},{"r":"57","c":5.2,"x":-2.25,"y":7.03},{"r":"57","c":5.2,"x":-1.75,"y":6.41},{"r":"57","c":5.2,"x":-1.25,"y":5.70},{"r":"57","c":5.2,"x":-0.8,"y":5.42},{"r":"57","c":5.2,"x":-0.4,"y":5.29},{"r":"57","c":5.2,"x":0,"y":5.33},{"r":"57","c":5.2,"x":0.35,"y":5.57},{"r":"57","c":5.2,"x":0.7,"y":5.87}
],
"note":[{"label":"Ring number : 50","x":-0.62,"y":6.73}]
},
"layer":[
{"data":{"name":"curves"},
 "mark":{"type":"line","interpolate":"monotone","strokeWidth":1,"clip":true},
 "encoding":{
  "x":{"field":"x","type":"quantitative","scale":{"domain":[-5.63,0.83],"nice":false,"zero":false},
   "axis":{"orient":"bottom","values":[-5,-4,-3,-2,-1,0],"labelExpr":"datum.value % 2 == 0 ? datum.label : ''","tickSize":-5,"labelPadding":7,"title":"log τ","titleX":195,"titleY":7,"titleAlign":"center","titleBaseline":"middle"}},
  "y":{"field":"y","type":"quantitative","scale":{"domain":[5,7.4],"nice":false,"zero":false},
   "axis":{"orient":"left","values":[5,5.1,5.2,5.3,5.4,5.5,5.6,5.7,5.8,5.9,6,6.1,6.2,6.3,6.4,6.5,6.6,6.7,6.8,6.9,7,7.1,7.2,7.3],"format":"~g","labelExpr":"abs(datum.value*2 - round(datum.value*2)) < 0.001 ? datum.label : ''","tickSize":{"condition":{"test":"abs(datum.value*2 - round(datum.value*2)) < 0.001","value":-6},"value":-3},"labelPadding":9,"labelAngle":-90,"labelAlign":"center","labelBaseline":"bottom","title":"abundance","titleAngle":-90,"titleX":-8,"titleY":62,"titleAlign":"center","titleBaseline":"middle"}},
  "color":{"field":"c","type":"quantitative","scale":{"domain":[3,4.25,5.5,6.75,8,9.25,10.5,11.75,13],"range":["#00007f","#0000ff","#007fff","#00ffff","#7fff7f","#ffff00","#ff7f00","#ff0000","#7f0000"]},
   "legend":{"orient":"none","legendX":159,"legendY":17,"direction":"horizontal","gradientLength":100,"gradientThickness":9,"title":"Cr","titleOrient":"bottom","titleAnchor":"middle","titleFontSize":8,"titleFontWeight":"normal","titleColor":"#2b2b99","titlePadding":3,"values":[4,6,8,10,12],"labelFontSize":8,"labelColor":"#2b2b99","labelOffset":2,"gradientStrokeColor":"#222222","gradientStrokeWidth":0.5}},
  "detail":{"field":"r","type":"nominal"}
 }},
{"data":{"name":"note"},
 "mark":{"type":"text","fontSize":8,"color":"#2b2b99","font":"Liberation Sans"},
 "encoding":{
  "x":{"field":"x","type":"quantitative","scale":{"domain":[-5.63,0.83],"nice":false,"zero":false},
   "axis":{"orient":"top","values":[-5,-4,-3,-2,-1,0],"labels":false,"tickSize":-5,"title":null}},
  "y":{"field":"y","type":"quantitative","scale":{"domain":[5,7.4],"nice":false,"zero":false},
   "axis":{"orient":"right","values":[5,5.1,5.2,5.3,5.4,5.5,5.6,5.7,5.8,5.9,6,6.1,6.2,6.3,6.4,6.5,6.6,6.7,6.8,6.9,7,7.1,7.2,7.3],"labels":false,"tickSize":{"condition":{"test":"abs(datum.value*2 - round(datum.value*2)) < 0.001","value":-6},"value":-3},"title":null}},
  "text":{"field":"label"}
 }}
],
"resolve":{"axis":{"x":"independent","y":"independent"}}
}
